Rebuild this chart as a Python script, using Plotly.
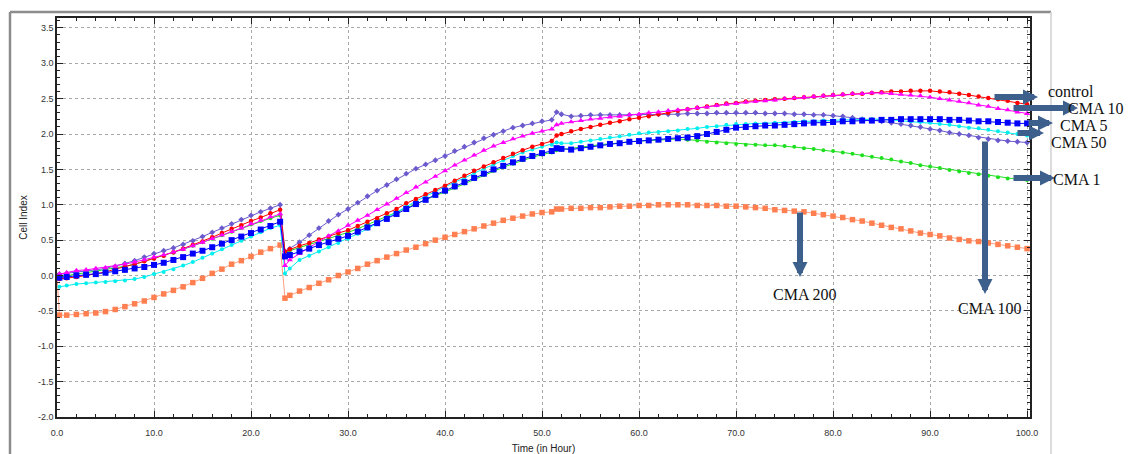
import plotly.graph_objects as go

# ---- data -------------------------------------------------------------
hours = [0.25] + list(range(1, 24)) + [23.5] + list(range(24, 52)) + [51.5] + list(range(52, 101))
hours_200 = [0.0] + hours

control = [-0.05,-0.04,-0.02,0.00,0.02,0.05,0.09,0.12,0.16,0.20,0.24,0.28,0.33,0.38,0.43,0.48,0.54,0.60,0.66,0.71,0.77,0.82,0.88,0.93,
           0.34,0.37,0.42,0.46,0.51,0.55,0.60,0.64,0.70,0.76,0.81,0.88,0.94,1.02,1.08,1.15,1.21,1.27,1.34,1.41,1.48,1.54,1.60,1.66,1.72,1.77,1.82,1.86,1.90,
           1.98,2.00,2.04,2.07,2.10,2.13,2.16,2.18,2.21,2.23,2.25,2.28,2.30,2.33,2.35,2.37,2.39,2.41,2.43,2.44,
           2.46,2.47,2.48,2.49,2.50,2.51,2.52,2.53,2.54,2.55,2.56,2.57,2.57,2.58,2.59,2.60,2.60,2.61,2.61,2.61,
           2.60,2.59,2.57,2.55,2.53,2.51,2.49,2.47,2.44,2.42]
cma1 = [-0.02,0.00,0.02,0.04,0.06,0.08,0.10,0.13,0.16,0.20,0.24,0.28,0.32,0.37,0.42,0.47,0.52,0.57,0.62,0.67,0.72,0.77,0.81,0.85,
        0.33,0.35,0.40,0.44,0.48,0.52,0.57,0.61,0.66,0.72,0.78,0.83,0.89,0.95,1.01,1.07,1.13,1.18,1.24,1.30,1.36,1.42,1.48,1.53,1.58,1.63,1.67,1.71,1.74,
        1.77,1.78,1.79,1.81,1.83,1.85,1.86,1.88,1.89,1.90,1.91,1.92,1.93,1.93,1.92,1.91,1.89,1.88,1.87,1.86,
        1.85,1.85,1.84,1.84,1.83,1.82,1.80,1.79,1.77,1.76,1.74,1.72,1.70,1.68,1.66,1.64,1.61,1.59,1.56,1.54,
        1.52,1.49,1.47,1.45,1.43,1.41,1.39,1.37,1.36,1.35]
cma5 = [-0.03,-0.02,0.00,0.01,0.02,0.04,0.06,0.08,0.10,0.12,0.15,0.18,0.22,0.26,0.31,0.35,0.40,0.45,0.50,0.55,0.60,0.65,0.70,0.76,
        0.27,0.29,0.34,0.38,0.43,0.47,0.52,0.56,0.62,0.68,0.74,0.80,0.87,0.94,1.01,1.07,1.14,1.20,1.26,1.32,1.38,1.44,1.50,1.55,1.60,1.65,1.69,1.73,1.76,
        1.80,1.79,1.78,1.80,1.82,1.84,1.86,1.87,1.89,1.90,1.91,1.92,1.93,1.94,1.95,1.97,2.00,2.03,2.06,2.09,
        2.10,2.11,2.12,2.12,2.13,2.14,2.15,2.16,2.16,2.17,2.18,2.18,2.19,2.19,2.20,2.20,2.21,2.21,2.21,2.21,
        2.21,2.20,2.20,2.19,2.18,2.18,2.17,2.16,2.15,2.15]
cma10 = [0.02,0.04,0.07,0.08,0.10,0.11,0.13,0.16,0.19,0.22,0.26,0.29,0.33,0.37,0.42,0.47,0.52,0.57,0.62,0.67,0.73,0.78,0.83,0.87,
         0.14,0.22,0.31,0.40,0.48,0.56,0.63,0.71,0.78,0.85,0.93,1.01,1.09,1.17,1.25,1.32,1.40,1.48,1.56,1.63,1.70,1.77,1.83,1.88,1.93,1.97,2.01,2.04,2.07,
         2.13,2.15,2.17,2.19,2.21,2.22,2.24,2.25,2.27,2.28,2.30,2.31,2.33,2.34,2.35,2.37,2.38,2.40,2.42,2.43,
         2.45,2.46,2.47,2.48,2.50,2.51,2.52,2.53,2.54,2.55,2.56,2.57,2.57,2.58,2.58,2.57,2.56,2.55,2.54,2.52,
         2.50,2.48,2.46,2.44,2.41,2.39,2.36,2.34,2.31,2.29]
cma50 = [-0.16,-0.14,-0.12,-0.11,-0.10,-0.09,-0.08,-0.07,-0.05,-0.02,0.02,0.05,0.09,0.14,0.19,0.25,0.31,0.37,0.43,0.49,0.55,0.61,0.67,0.71,
         0.03,0.10,0.22,0.28,0.34,0.40,0.46,0.52,0.59,0.66,0.74,0.82,0.90,0.98,1.05,1.12,1.19,1.25,1.32,1.38,1.45,1.51,1.57,1.63,1.69,1.74,1.78,1.82,1.85,
         1.88,1.87,1.87,1.89,1.91,1.93,1.95,1.97,1.99,2.01,2.02,2.03,2.04,2.05,2.07,2.08,2.10,2.11,2.13,2.14,
         2.14,2.15,2.15,2.16,2.16,2.17,2.18,2.18,2.19,2.19,2.20,2.20,2.21,2.21,2.21,2.20,2.19,2.18,2.17,2.16,
         2.14,2.13,2.11,2.09,2.08,2.06,2.04,2.02,2.00,1.98]
cma100 = [0.02,0.03,0.05,0.06,0.08,0.10,0.13,0.17,0.21,0.26,0.31,0.35,0.39,0.44,0.49,0.55,0.61,0.67,0.73,0.79,0.85,0.90,0.95,1.00,
          0.34,0.38,0.47,0.57,0.67,0.77,0.86,0.94,1.03,1.12,1.20,1.28,1.36,1.44,1.51,1.57,1.63,1.69,1.76,1.82,1.88,1.94,1.99,2.04,2.09,2.12,2.15,2.18,2.20,
          2.31,2.28,2.25,2.26,2.27,2.27,2.27,2.27,2.27,2.27,2.27,2.28,2.28,2.28,2.29,2.29,2.29,2.30,2.30,2.30,
          2.30,2.30,2.29,2.29,2.29,2.28,2.28,2.27,2.27,2.26,2.25,2.23,2.21,2.20,2.18,2.16,2.14,2.12,2.10,2.07,
          2.05,2.02,2.00,1.98,1.95,1.93,1.91,1.90,1.89,1.88]
cma200 = [0.00,
          -0.56,-0.56,-0.55,-0.54,-0.53,-0.51,-0.48,-0.44,-0.40,-0.36,-0.31,-0.26,-0.21,-0.16,-0.10,-0.04,0.03,0.09,0.16,0.21,0.27,0.33,0.38,0.43,
          -0.32,-0.28,-0.22,-0.17,-0.11,-0.06,0.00,0.05,0.10,0.16,0.21,0.26,0.31,0.36,0.40,0.45,0.50,0.54,0.58,0.62,0.66,0.70,0.74,0.78,0.81,0.84,0.87,0.89,0.90,
          0.94,0.94,0.95,0.95,0.96,0.96,0.97,0.98,0.98,0.99,0.99,1.00,1.00,1.00,1.00,0.99,0.99,0.99,0.98,0.98,
          0.97,0.96,0.95,0.93,0.92,0.91,0.90,0.88,0.86,0.84,0.82,0.79,0.77,0.74,0.71,0.68,0.66,0.63,0.60,0.58,
          0.56,0.53,0.51,0.49,0.48,0.46,0.44,0.42,0.40,0.38]

x_ticks = [0, 10, 20, 30, 40, 50, 60, 70, 80, 90, 100]
y_ticks = [-2.0, -1.5, -1.0, -0.5, 0.0, 0.5, 1.0, 1.5, 2.0, 2.5, 3.0, 3.5]

# ---- figure -----------------------------------------------------------
W, H = 1132, 454
L, R, T, B = 57, 1030, 18, 417

fig = go.Figure()

def add(x, y, name, color, symbol, size, lcolor=None, lw=1):
    fig.add_trace(go.Scatter(
        x=x, y=y, name=name, mode="lines+markers",
        line=dict(color=lcolor or color, width=lw),
        marker=dict(color=color, symbol=symbol, size=size, line=dict(width=0)),
        showlegend=False, cliponaxis=True))

add(hours_200, cma200, "CMA 200", "#ff7f50", "square", 5.5, lcolor="#ff9f80")
add(hours, cma1, "CMA 1", "#1fe01f", "circle", 4)
add(hours, cma100, "CMA 100", "#6a5acd", "diamond", 4.5)
add(hours, cma50, "CMA 50", "#00eeee", "circle", 4)
add(hours, control, "control", "#ff0000", "circle", 4.5)
add(hours, cma10, "CMA 10", "#ff00ff", "triangle-up", 5.5)
add(hours, cma5, "CMA 5", "#0000ff", "square", 6)

def px(xp):
    return (xp - L) / (R - L)

def py(yp):
    return (B - yp) / (B - T)

# outer frame
fig.add_shape(type="line", xref="paper", yref="paper", x0=px(10), x1=px(10), y0=py(12), y1=py(470),
              line=dict(color="#8c8c8c", width=2.5))
fig.add_shape(type="line", xref="paper", yref="paper", x0=px(10), x1=px(1051), y0=py(12), y1=py(12),
              line=dict(color="#8c8c8c", width=2.5))
fig.add_shape(type="line", xref="paper", yref="paper", x0=px(1051), x1=px(1051), y0=py(12), y1=py(470),
              line=dict(color="#d0d0d0", width=1.5))

arrow_color = "#3d5f8c"
# (tip_x, tip_y, tail_x, tail_y) in pixels
arrows = [
    (1038, 97, 993, 97),
    (1078, 108, 1012, 108),
    (1053, 123, 1027, 123),
    (1044, 133, 1016, 133),
    (1055, 178, 1012, 178),
    (985, 294, 985, 140),
    (800, 277, 800, 211),
]
for tx, ty, sx, sy in arrows:
    fig.add_annotation(xref="paper", yref="paper", x=px(tx), y=py(ty),
                       ax=sx - tx, ay=sy - ty, axref="pixel", ayref="pixel",
                       text="", showarrow=True, arrowhead=2, arrowsize=0.5,
                       arrowwidth=6, arrowcolor=arrow_color, standoff=0, startstandoff=0)

labels = [
    ("control", 1071, 91),
    ("CMA 10", 1096, 108),
    ("CMA 5", 1084, 125),
    ("CMA 50", 1079, 142),
    ("CMA 1", 1077, 179),
    ("CMA 100", 990, 308),
    ("CMA 200", 805, 294),
]
for txt, cx, cy in labels:
    fig.add_annotation(xref="paper", yref="paper", x=px(cx), y=py(cy), text=txt,
                       showarrow=False, xanchor="center", yanchor="middle",
                       font=dict(family="Liberation Serif, Times New Roman, serif", size=16, color="#111"))

axis_font = dict(family="Liberation Sans, Arial, sans-serif", size=9, color="#333")

fig.update_xaxes(range=[0, 100.3], tickvals=x_ticks, ticktext=[f"{v:.1f}" for v in x_ticks],
                 showgrid=True, gridcolor="#a8a8a8", griddash="dot", gridwidth=1,
                 showline=True, linecolor="#222", linewidth=1.5, mirror="ticks",
                 ticks="inside", ticklen=6, tickcolor="#222", ticklabelstandoff=6,
                 minor=dict(dtick=2, ticks="inside", ticklen=3, tickcolor="#222", showgrid=False),
                 tickfont=axis_font, zeroline=False, automargin=False,
                 title=dict(text="Time (in Hour)", font=dict(family="Liberation Sans, Arial, sans-serif", size=10, color="#222"), standoff=10))
fig.update_yaxes(range=[-2.0, 3.64], tickvals=y_ticks, ticktext=[f"{v:.1f}" for v in y_ticks],
                 showgrid=True, gridcolor="#a8a8a8", griddash="dot", gridwidth=1,
                 showline=True, linecolor="#222", linewidth=1.5, mirror="ticks",
                 ticks="inside", ticklen=6, tickcolor="#222",
                 minor=dict(dtick=0.1, ticks="inside", ticklen=3, tickcolor="#222", showgrid=False),
                 tickfont=axis_font, zeroline=False, automargin=False,
                 title=dict(text="Cell Index", font=dict(family="Liberation Sans, Arial, sans-serif", size=10, color="#222"), standoff=8))

fig.update_layout(width=W, height=H, margin=dict(l=L, r=W - R, t=T, b=H - B, autoexpand=False),
                  plot_bgcolor="white", paper_bgcolor="white", showlegend=False)

fig.write_html("out.html")
